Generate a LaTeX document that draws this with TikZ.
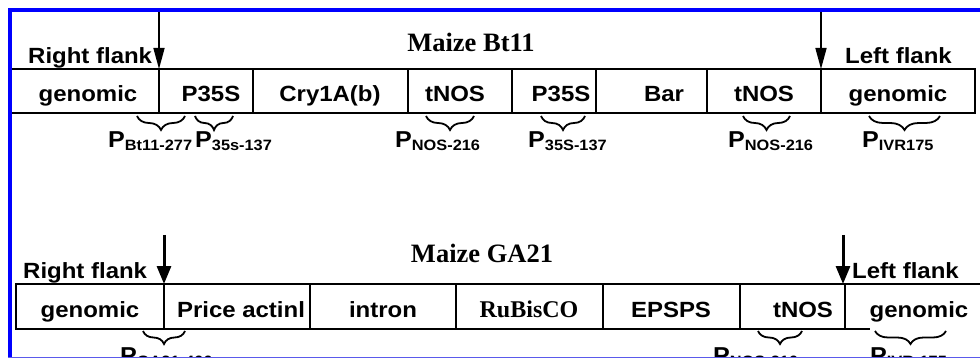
\documentclass[tikz,border=0pt]{standalone}
\usepackage{fontspec}
\newfontfamily\sansb[FakeStretch=1.09]{Liberation Sans}
\newfontfamily\serifb{Liberation Serif}
\usetikzlibrary{arrows.meta,decorations.pathreplacing}
\newcommand\psub[1]{\raisebox{-3pt}{\fontsize{15}{15}\selectfont #1}}
\definecolor{frameblue}{RGB}{0,0,255}
\definecolor{lightblue}{RGB}{90,90,235}
\begin{document}
\begin{tikzpicture}[x=1pt,y=-1pt,
  seg/.style={draw, line width=2pt, inner sep=0pt, outer sep=0pt, anchor=north west},
  segnd/.style={inner sep=0pt, outer sep=0pt, anchor=north west},
  txt/.style={font=\sansb\bfseries\fontsize{22}{22}\selectfont, inner sep=0pt, anchor=base},
  sertxt/.style={font=\serifb\bfseries\fontsize{24}{24}\selectfont, inner sep=0pt, anchor=base},
  ttl/.style={font=\serifb\bfseries\fontsize{26.5}{26.5}\selectfont, inner sep=0pt, anchor=base},
  plab/.style={font=\sansb\bfseries\fontsize{23}{23}\selectfont, inner sep=0pt, anchor=base west},
  arrthin/.style={line width=1.6pt, -{Triangle[length=21pt,width=11pt]}},
  arrthick/.style={line width=3pt, -{Triangle[length=18pt,width=14pt]}},
  brc/.style={line width=1.8pt, decorate, decoration={brace, mirror, amplitude=#1}},
  brc/.default=14pt,
  boxline/.style={line width=2pt}
]
\useasboundingbox (0,0) rectangle (980,358);
\clip (0,0) rectangle (980,358);
\fill[white] (0,0) rectangle (980,358);

% ---------------- Row 1: Maize Bt11 ----------------
\node[seg, minimum width=149pt, minimum height=44pt] (a1) at (10,69) {};
\node[seg, minimum width=94pt,  minimum height=44pt] (a2) at (159,69) {};
\node[seg, minimum width=155pt, minimum height=44pt] (a3) at (253,69) {};
\node[seg, minimum width=104pt, minimum height=44pt] (a4) at (408,69) {};
\node[seg, minimum width=84pt,  minimum height=44pt] (a5) at (512,69) {};
\node[seg, minimum width=111pt, minimum height=44pt] (a6) at (596,69) {};
\node[seg, minimum width=114pt, minimum height=44pt] (a7) at (707,69) {};
\node[seg, minimum width=154pt, minimum height=44pt] (a8) at (821,69) {};

\node[txt] (ta1) at (88,102) {genomic};
\node[txt] (ta2) at (211,102) {P35S};
\node[txt] (ta3) at (330,102) {Cry1A(b)};
\node[txt] (ta4) at (455,102) {tNOS};
\node[txt] (ta5) at (561,102) {P35S};
\node[txt] (ta6) at (664,102) {Bar};
\node[txt] (ta7) at (764,102) {tNOS};
\node[txt] (ta8) at (898,102) {genomic};

\node[txt, anchor=base west] (rf1) at (28,64) {Right flank};
\node[txt, anchor=base west] (lf1) at (845,64) {Left flank};
\node[ttl] (title1) at (471,52) {Maize Bt11};

\coordinate (ar1) at (159,12);
\coordinate (ar2) at (821,12);
\draw[arrthin] (ar1) -- (a2.north west);
\draw[arrthin] (ar2) -- (a8.north west);

\coordinate (b1s) at (137,116); \coordinate (b1e) at (185,116);
\coordinate (b2s) at (195,116); \coordinate (b2e) at (233,116);
\coordinate (b3s) at (426,116); \coordinate (b3e) at (474,116);
\coordinate (b4s) at (541,116); \coordinate (b4e) at (585,116);
\coordinate (b5s) at (743,116); \coordinate (b5e) at (790,116);
\coordinate (b6s) at (869,116); \coordinate (b6e) at (940,116);
\draw[brc] (b1s) -- (b1e);
\draw[brc] (b2s) -- (b2e);
\draw[brc] (b3s) -- (b3e);
\draw[brc] (b4s) -- (b4e);
\draw[brc] (b5s) -- (b5e);
\draw[brc] (b6s) -- (b6e);

\node[plab] (p1) at (108,148) {P\psub{Bt11-277}};
\node[plab] (p2) at (195,148) {P\psub{35s-137}};
\node[plab] (p3) at (395,148) {P\psub{NOS-216}};
\node[plab] (p4) at (528,148) {P\psub{35S-137}};
\node[plab] (p5) at (728,148) {P\psub{NOS-216}};
\node[plab] (p6) at (862,148) {P\psub{IVR175}};

% ---------------- Row 2: Maize GA21 ----------------
\node[seg, minimum width=148pt, minimum height=45pt] (c1) at (16,284) {};
\node[seg, minimum width=146pt, minimum height=45pt] (c2) at (164,284) {};
\node[seg, minimum width=146pt, minimum height=45pt] (c3) at (310,284) {};
\node[seg, minimum width=147pt, minimum height=45pt] (c4) at (456,284) {};
\node[seg, minimum width=137pt, minimum height=45pt] (c5) at (603,284) {};
\node[seg, minimum width=105pt, minimum height=45pt] (c6) at (740,284) {};
\node[segnd, minimum width=145pt, minimum height=45pt] (c7) at (845,284) {};
\draw[boxline] (c7.south west) -- (c7.north west) -- (c7.north east);
\coordinate (c7b) at (870,329);
\draw[boxline] (c7.south west) -- (c7b);

\node[txt] (tc1) at (90,317.5) {genomic};
\node[txt] (tc2) at (241,317.5) {Price actinl};
\node[txt] (tc3) at (383,317.5) {intron};
\node[sertxt] (tc4) at (529,317.5) {RuBisCO};
\node[txt] (tc5) at (671,317.5) {EPSPS};
\node[txt] (tc6) at (803,317.5) {tNOS};
\node[txt] (tc7) at (919,317.5) {genomic};

\node[txt, anchor=base west] (rf2) at (23,279) {Right flank};
\node[txt, anchor=base west] (lf2) at (852,278) {Left flank};
\node[ttl] (title2) at (482,262) {Maize GA21};

\coordinate (ar3) at (164,235);
\coordinate (ar4) at (843,235);
\draw[arrthick] (ar3) -- (c2.north west);
\draw[arrthick] (ar4) -- (843,284);

\coordinate (d1s) at (143,331); \coordinate (d1e) at (185,331);
\coordinate (d2s) at (758,331); \coordinate (d2e) at (802,331);
\coordinate (d3s) at (875,331); \coordinate (d3e) at (946,331);
\draw[brc=13pt] (d1s) -- (d1e);
\draw[brc=13pt] (d2s) -- (d2e);
\draw[brc=13pt] (d3s) -- (d3e);

\node[plab] (q1) at (120,363) {P\psub{GA21-466}};
\node[plab] (q2) at (713,363) {P\psub{NOS-216}};
\node[plab] (q3) at (870,363) {P\psub{IVR-175}};

% ---------------- frame ----------------
\draw[frameblue, line width=4pt, line join=miter] (10,360) -- (10,10) -- (985,10);
\draw[lightblue, line width=1.2pt] (8,357.4) -- (985,357.4);
\end{tikzpicture}
\end{document}
